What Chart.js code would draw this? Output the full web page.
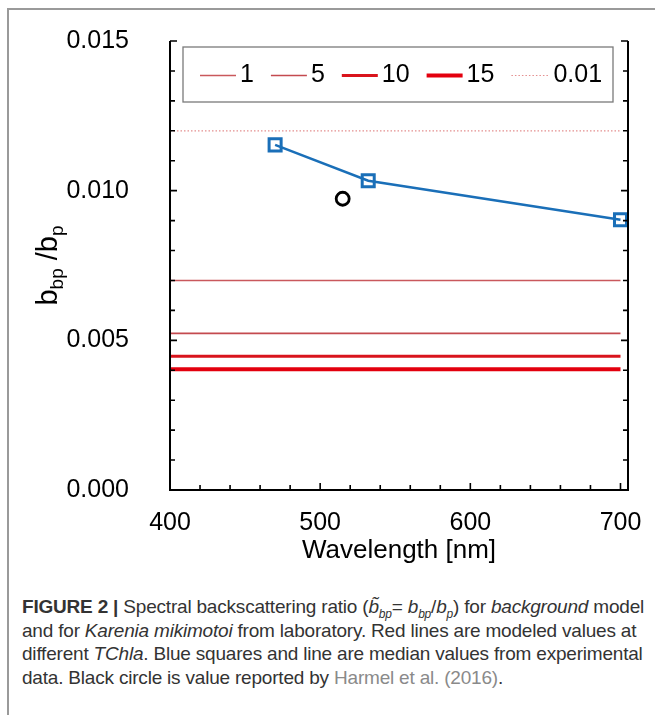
<!DOCTYPE html>
<html>
<head>
<meta charset="utf-8">
<script src="https://cdn.jsdelivr.net/npm/chart.js@4.4.0/dist/chart.umd.min.js"></script>
<style>
  html, body { margin: 0; padding: 0; background: #fff; }
  body { width: 655px; height: 715px; position: relative; overflow: hidden; }
  #frame { position: absolute; left: 7px; top: 8px; width: 660px; height: 720px;
           border-top: 2px solid #9a9a9a; border-left: 2px solid #9a9a9a; }
  #graph { position: absolute; left: 0; top: 0; }
  #caption { position: absolute; left: 22px; top: 595px; font-family: "Liberation Sans", Arial, sans-serif;
             font-size: 19px; line-height: 23.5px; color: #333; white-space: nowrap; letter-spacing: -0.2px; }
  #caption sub { font-size: 12px; line-height: 0; }
  #caption .ref { color: #8a8a8a; }
</style>
</head>
<body>
<div id="frame"></div>
<canvas id="graph" width="655" height="580"></canvas>
<div id="caption">
  <div><b>FIGURE 2 |</b> Spectral backscattering ratio (<i>b&#771;<sub>bp</sub></i>= <i>b<sub>bp</sub></i>/<i>b<sub>p</sub></i>) for <i>background</i> model</div>
  <div>and for <i>Karenia mikimotoi</i> from laboratory. Red lines are modeled values at</div>
  <div>different <i>TChla</i>. Blue squares and line are median values from experimental</div>
  <div>data. Black circle is value reported by <span class="ref">Harmel et al. (2016)</span>.</div>
</div>
<script>
// modeled ratio for different TChla (horizontal lines)
const lineRange = [400, 700];
const chlaLabels = ['1', '5', '10', '15', '0.01'];
const modelRatio = [0.0070, 0.00523, 0.00447, 0.00403, 0.0120];
const lineColors = ['#c9585c', '#c44a4f', '#d9141c', '#e3000e', '#e48f8f'];
const lineWidths = [1.5, 1.7, 3, 4, 1.2];

// laboratory medians (blue squares)
const labWavelength = [470, 532, 700];
const labRatio = [0.01153, 0.01033, 0.00903];

// Harmel et al. (2016)
const harmelWavelength = [515];
const harmelRatio = [0.00973];

const xTicks = [400, 500, 600, 700];
const yTicks = [0, 0.005, 0.010, 0.015];

const datasets = chlaLabels.map((lab, i) => ({
  label: lab,
  data: lineRange.map(x => ({ x, y: modelRatio[i] })),
  borderColor: lineColors[i],
  borderWidth: lineWidths[i],
  borderDash: lab === '0.01' ? [1.5, 2] : [],
  pointRadius: 0,
  showLine: true,
  legendItem: true
}));
datasets.push({
  label: 'lab',
  data: labWavelength.map((x, i) => ({ x, y: labRatio[i] })),
  borderColor: '#1a6fb8',
  borderWidth: 2.5,
  pointStyle: 'rect',
  pointRadius: 8.5,
  pointBorderWidth: 3,
  pointBackgroundColor: 'rgba(255,255,255,0)',
  pointBorderColor: '#1a6fb8',
  showLine: true
});
datasets.push({
  label: 'Harmel',
  data: harmelWavelength.map((x, i) => ({ x, y: harmelRatio[i] })),
  pointStyle: 'circle',
  pointRadius: 6.5,
  pointBorderWidth: 2.8,
  pointBorderColor: '#000',
  pointBackgroundColor: 'rgba(255,255,255,0)',
  showLine: false
});

const frameAxes = {
  id: 'frameAxes',
  afterDraw(chart) {
    const { ctx, chartArea: a, scales: { x, y } } = chart;
    ctx.save();
    ctx.strokeStyle = '#000';
    ctx.lineWidth = 2;
    ctx.beginPath();
    ctx.moveTo(a.left, a.top); ctx.lineTo(a.left, a.bottom); ctx.lineTo(a.right, a.bottom); ctx.lineTo(a.right, a.top);
    ctx.stroke();
    ctx.lineWidth = 1.6;
    ctx.beginPath();
    for (let v = 0; v <= 15; v++) {
      const py = y.getPixelForValue(v / 1000);
      const len = v % 5 === 0 ? 7 : 5;
      ctx.moveTo(a.left, py); ctx.lineTo(a.left + len, py);
      ctx.moveTo(a.right, py); ctx.lineTo(a.right - len, py);
    }
    for (let v = 420; v <= 700; v += 20) {
      const px = x.getPixelForValue(v);
      const len = v % 100 === 0 ? 7 : 5;
      ctx.moveTo(px, a.bottom); ctx.lineTo(px, a.bottom - len);
    }
    ctx.stroke();

    // legend box
    const bx = 183, by = 47, bw = 430, bh = 55;
    ctx.fillStyle = '#fff';
    ctx.fillRect(bx, by, bw, bh);
    ctx.strokeStyle = '#7a7a7a';
    ctx.lineWidth = 1.3;
    ctx.strokeRect(bx, by, bw, bh);
    ctx.font = '25px "Liberation Sans", Arial, sans-serif';
    ctx.textBaseline = 'middle';
    ctx.fillStyle = '#000';
    let cx = 200;
    const cy = by + bh / 2;
    chart.data.datasets.forEach(ds => {
      if (!ds.legendItem) return;
      const sample = ds.label === '0.01' ? 38 : 36;
      ctx.strokeStyle = ds.borderColor;
      ctx.lineWidth = ds.borderWidth;
      ctx.setLineDash(ds.borderDash);
      ctx.beginPath();
      ctx.moveTo(cx, cy + 1); ctx.lineTo(cx + sample, cy + 1);
      ctx.stroke();
      ctx.setLineDash([]);
      cx += sample + 4;
      ctx.fillText(ds.label, cx, cy + 1);
      cx += ctx.measureText(ds.label).width + 17;
    });

    // y title with subscripts
    ctx.translate(57, (a.top + a.bottom) / 2);
    ctx.rotate(-Math.PI / 2);
    ctx.textBaseline = 'alphabetic';
    const big = '29px "Liberation Sans", Arial, sans-serif';
    const small = '19px "Liberation Sans", Arial, sans-serif';
    const parts = [['b', big, 0], ['bp', small, 6], [' /b', big, 0], ['p', small, 6]];
    let total = 0;
    parts.forEach(p => { ctx.font = p[1]; total += ctx.measureText(p[0]).width; });
    let tx = -total / 2;
    parts.forEach(p => {
      ctx.font = p[1];
      ctx.fillText(p[0], tx, p[2]);
      tx += ctx.measureText(p[0]).width;
    });
    ctx.restore();
  }
};

new Chart(document.getElementById('graph'), {
  type: 'scatter',
  data: { datasets },
  options: {
    responsive: false,
    animation: false,
    devicePixelRatio: 1,
    layout: { padding: { top: 41, right: 27, left: 0, bottom: 0 } },
    plugins: { legend: { display: false }, tooltip: { enabled: false } },
    scales: {
      x: {
        type: 'linear', min: 400, max: 705,
        afterBuildTicks: s => { s.ticks = xTicks.map(v => ({ value: v })); },
        afterFit: s => { s.height = 90; s.paddingLeft = 0; s.paddingRight = 0; },
        grid: { display: false }, border: { display: false },
        ticks: { color: '#000', padding: 10, maxRotation: 0, font: { size: 25, family: '"Liberation Sans", Arial, sans-serif' } },
        title: { display: true, text: 'Wavelength [nm]', color: '#000', padding: { bottom: 14 },
                 font: { size: 26, family: '"Liberation Sans", Arial, sans-serif' } }
      },
      y: {
        min: 0, max: 0.015,
        afterBuildTicks: s => { s.ticks = yTicks.map(v => ({ value: v })); },
        afterFit: s => { s.width = 170; s.paddingTop = 0; s.paddingBottom = 0; },
        grid: { display: false }, border: { display: false },
        ticks: { color: '#000', padding: 33, font: { size: 25, family: '"Liberation Sans", Arial, sans-serif' },
                 callback: v => v.toFixed(3) }
      }
    }
  },
  plugins: [frameAxes]
});
</script>
</body>
</html>
